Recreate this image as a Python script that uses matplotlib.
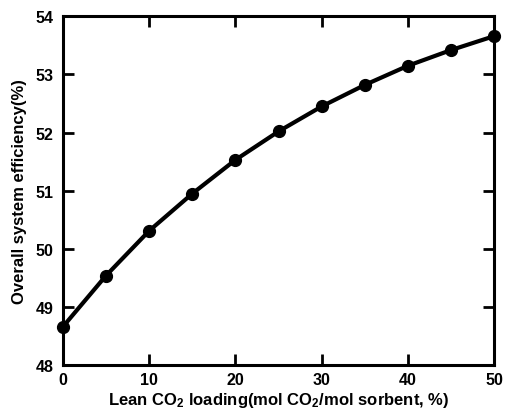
import matplotlib
matplotlib.use("Agg")
import matplotlib.pyplot as plt

plt.rcParams['font.family'] = ['Liberation Sans', 'DejaVu Sans']
plt.rcParams['font.weight'] = 'bold'
plt.rcParams['mathtext.fontset'] = 'custom'
plt.rcParams['mathtext.rm'] = 'Liberation Sans:bold'
plt.rcParams['mathtext.bf'] = 'Liberation Sans:bold'
plt.rcParams['mathtext.it'] = 'Liberation Sans:bold'

loading = [0, 5, 10, 15, 20, 25, 30, 35, 40, 45, 50]
efficiency = [48.66, 49.54, 50.31, 50.95, 51.53, 52.02, 52.45, 52.82, 53.15, 53.42, 53.66]
xticks = [0, 10, 20, 30, 40, 50]
yticks = [48, 49, 50, 51, 52, 53, 54]

fig = plt.figure(figsize=(5.06, 4.14), dpi=100)
ax = fig.add_axes([0.1245, 0.116, 0.852, 0.842])
ax.plot(loading, efficiency, color='black', lw=3, marker='o', markersize=8.5,
        clip_on=False, zorder=5)
ax.set_xlim(0, 50)
ax.set_ylim(48, 54)
ax.set_xticks(xticks)
ax.set_yticks(yticks)
ax.tick_params(direction='in', length=8, width=2, top=True, right=True,
               labelsize=11.5)
ax.tick_params(axis='x', pad=5)
ax.tick_params(axis='y', pad=7)
for lab in ax.get_xticklabels() + ax.get_yticklabels():
    lab.set_fontweight('bold')
for s in ax.spines.values():
    s.set_linewidth(2.2)
ax.set_xlabel(r'Lean CO$_2$ loading(mol CO$_2$/mol sorbent, %)', fontsize=12,
              fontweight='bold', labelpad=2)
ax.set_ylabel('Overall system efficiency(%)', fontsize=12, fontweight='bold',
              labelpad=6)
fig.savefig('out.png', dpi=100)
